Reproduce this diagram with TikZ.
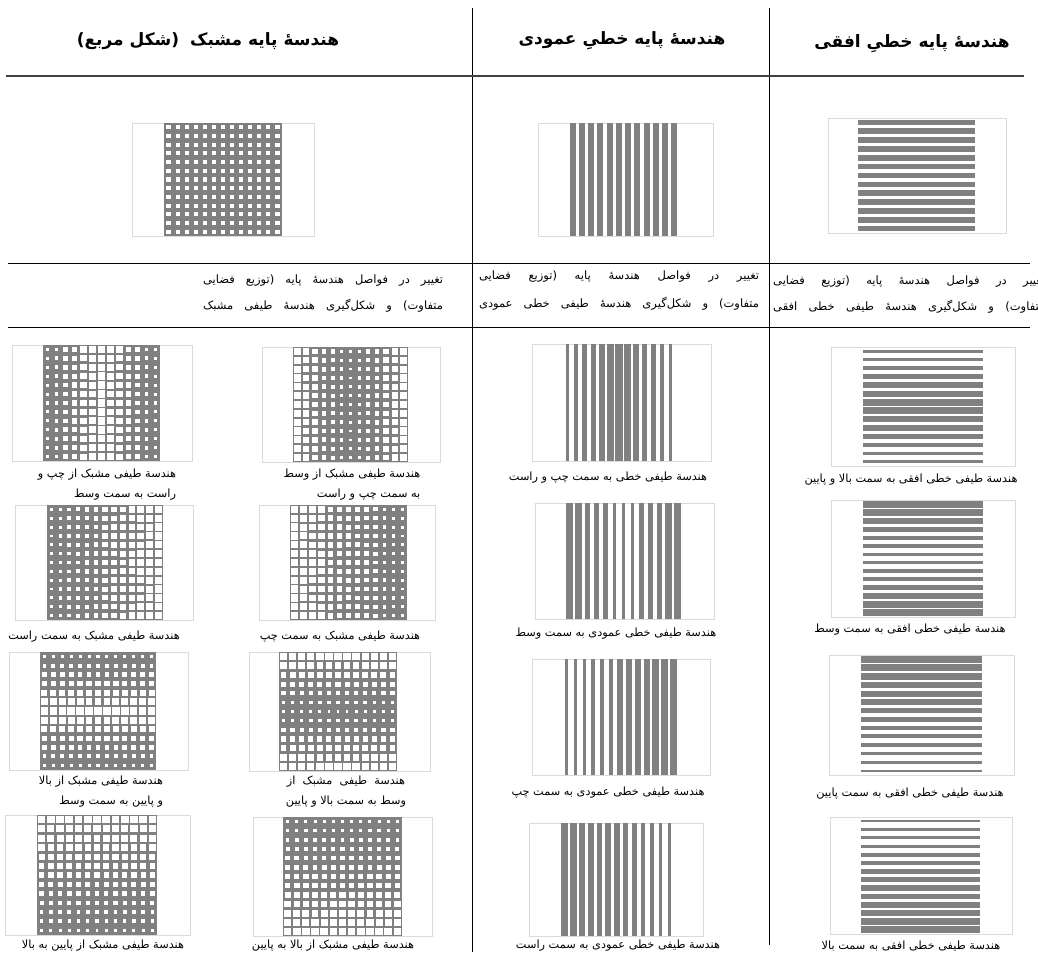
\documentclass[tikz,border=0pt]{standalone}
\usepackage{fontspec}
\newfontfamily\farsi[Script=Arabic]{DejaVu Sans}
\TeXXeTstate=1
\usetikzlibrary{positioning}
\definecolor{ink}{HTML}{808080}
\definecolor{rim}{HTML}{DADADA}
\newcommand{\fa}[1]{{\farsi\beginR #1\endR}}
% white windows on grey, #7 = lightness of a cell from \pu,\pv
\newcommand{\meshimg}[7]{%
  \draw[frame] (#1,#2) rectangle (#3,#4);
  \fill[ink] (#5,#2) rectangle (#6,#4);
  \pgfmathsetmacro{\cw}{(#6-#5)/13}
  \pgfmathsetmacro{\ch}{(#4-#2)/13}
  \foreach \ci in {0,...,12}{
    \foreach \cj in {0,...,12}{
      \pgfmathsetmacro{\pu}{(\ci+0.5)/13}
      \pgfmathsetmacro{\pv}{(\cj+0.5)/13}
      \pgfmathsetmacro{\lt}{#7}
      \pgfmathsetmacro{\sq}{0.3+0.55*\lt}
      \fill[white] ({#5+(\ci+0.5-0.5*\sq)*\cw},{#2+(\cj+0.5-0.5*\sq)*\ch}) rectangle ++({\sq*\cw},{\sq*\ch});
    }
  }
}
\newcommand{\vbars}[8]{%
  \draw[frame] (#1,#2) rectangle (#3,#4);
  \pgfmathsetmacro{\bp}{(#6-#5)/#7}
  \pgfmathtruncatemacro{\bn}{#7-1}
  \foreach \ci in {0,...,\bn}{
    \pgfmathsetmacro{\pu}{(\ci+0.5)/#7}
    \pgfmathsetmacro{\lt}{#8}
    \pgfmathsetmacro{\bw}{0.9-0.65*\lt}
    \fill[ink] ({#5+(\ci+0.5-0.5*\bw)*\bp},#2) rectangle ++({\bw*\bp},{#4-#2});
  }
}
\newcommand{\hbars}[8]{%
  \draw[frame] (#1,#2) rectangle (#3,#4);
  \pgfmathsetmacro{\bp}{(#4-#2)/#7}
  \pgfmathtruncatemacro{\bn}{#7-1}
  \foreach \cj in {0,...,\bn}{
    \pgfmathsetmacro{\pv}{(\cj+0.5)/#7}
    \pgfmathsetmacro{\lt}{#8}
    \pgfmathsetmacro{\bw}{0.9-0.65*\lt}
    \fill[ink] (#5,{#2+(\cj+0.5-0.5*\bw)*\bp}) rectangle ++({#6-#5},{\bw*\bp});
  }
}

\begin{document}
\begin{tikzpicture}[x=1pt, y=-1pt,
  frame/.style={draw=rim, line width=0.8pt},
  rulel/.style={draw=black, line width=0.9pt},
  head/.style={font=\bfseries\fontsize{17}{19}\selectfont, inner sep=0pt},
  note/.style={font=\fontsize{11.5}{13}\selectfont, inner sep=0pt},
  capt/.style={font=\fontsize{11.3}{13}\selectfont, inner sep=0pt},
]
\useasboundingbox (0,0) rectangle (1038,958);
\clip (0,0) rectangle (1038,958);

% table rules
\draw[rulel] (472,8) -- (472,952);
\draw[rulel] (769,8) -- (769,945);
\draw[draw=black!75, line width=2.2pt] (6,76) -- (1024,76);
\draw[rulel] (8,263) -- (1030,263);
\draw[rulel] (8,327) -- (1030,327);

\node[head] (hmesh) at (208,41) {\fa{هندسهٔ پایه مشبک\hspace{5pt} (شکل مربع)}};
\node[head] (hvert) at (622,41) {\fa{هندسهٔ پایه خطیِ عمودی}};
\node[head] (hhorz) at (912,44) {\fa{هندسهٔ پایه خطیِ افقی}};

% base patterns
\meshimg{132}{123}{314}{236}{164}{282}{0.3}
\vbars{538}{123}{713}{236}{568}{679}{12}{0.4}
\hbars{828}{118}{1006}{233}{858}{975}{13}{0.4}

\node[note] (dmesh) at (323,281) {\makebox[240pt][s]{\farsi\beginR تغییر در فواصل هندسهٔ پایه (توزیع فضایی\endR}};
\node[note] (dmeshb) at (323,306) {\makebox[240pt][s]{\farsi\beginR متفاوت) و شکل‌گیری هندسهٔ طیفی مشبک\endR}};
\node[note] (dvert) at (619,277) {\makebox[280pt][s]{\farsi\beginR تغییر در فواصل هندسهٔ پایه (توزیع فضایی\endR}};
\node[note] (dvertb) at (619,304) {\makebox[280pt][s]{\farsi\beginR متفاوت) و شکل‌گیری هندسهٔ طیفی خطی عمودی\endR}};
\node[note, anchor=west] (dhorz) at (773,282) {\makebox[272pt][s]{\farsi\beginR تغییر در فواصل هندسهٔ پایه (توزیع فضایی\endR}};
\node[note, anchor=west] (dhorzb) at (773,307) {\makebox[272pt][s]{\farsi\beginR متفاوت) و شکل‌گیری هندسهٔ طیفی خطی افقی\endR}};

% spectral row 1
\meshimg{12}{345}{192}{461}{43}{160}{1-2*abs(\pu-0.5)}
\meshimg{262}{347}{440}{462}{293}{408}{2*abs(\pu-0.5)}
\vbars{532}{344}{711}{461}{563}{675}{13}{2*abs(\pu-0.5)}
\hbars{831}{347}{1015}{466}{863}{983}{14}{2*abs(\pv-0.5)}
% spectral row 2
\meshimg{15}{505}{193}{620}{47}{163}{\pu}
\meshimg{259}{505}{435}{620}{290}{407}{1-\pu}
\vbars{535}{503}{714}{619}{565}{682}{13}{1-2*abs(\pu-0.5)}
\hbars{831}{500}{1015}{617}{863}{983}{14}{1-2*abs(\pv-0.5)}
% spectral row 3
\meshimg{9}{652}{188}{770}{40}{156}{1-2*abs(\pv-0.5)}
\meshimg{249}{652}{430}{771}{279}{397}{2*abs(\pv-0.5)}
\vbars{532}{659}{710}{775}{562}{678}{13}{1-\pu}
\hbars{829}{655}{1014}{775}{861}{982}{14}{\pv}
% spectral row 4
\meshimg{5}{815}{190}{935}{37}{157}{1-\pv}
\meshimg{253}{817}{432}{936}{283}{402}{\pv}
\vbars{529}{823}{703}{936}{560}{674}{13}{\pu}
\hbars{830}{817}{1012}{934}{861}{980}{14}{1-\pv}

% captions
\node[capt] (ca1) at (107,475) {\fa{هندسة طیفی مشبک از چپ و}};
\node[capt, anchor=base east] (ca1b) at ([yshift=-20pt]ca1.base east) {\fa{راست به سمت وسط}};
\node[capt] (ca2) at (352,475) {\fa{هندسة طیفی مشبک از وسط}};
\node[capt, anchor=base east] (ca2b) at ([yshift=-20pt]ca2.base east) {\fa{به سمت چپ و راست}};
\node[capt] (cb1) at (94,637) {\fa{هندسة طیفی مشبک به سمت راست}};
\node[capt] (cb2) at (340,637) {\fa{هندسة طیفی مشبک به سمت چپ}};
\node[capt] (cc1) at (101,782) {\fa{هندسة طیفی مشبک از بالا}};
\node[capt, anchor=base east] (cc1b) at ([yshift=-20pt]cc1.base east) {\fa{و پایین به سمت وسط}};
\node[capt] (cc2) at (346,782) {\fa{هندسة\ \ طیفی\ \ مشبک\ \ از}};
\node[capt, anchor=base] (cc2b) at ([yshift=-20pt]cc2.base) {\fa{وسط به سمت بالا و پایین}};
\node[capt] (cd1) at (103,946) {\fa{هندسة طیفی مشبک از پایین به بالا}};
\node[capt] (cd2) at (333,946) {\fa{هندسة طیفی مشبک از بالا به پایین}};

\node[capt] (va) at (608,478) {\fa{هندسة طیفی خطی به سمت چپ و راست}};
\node[capt] (vb) at (616,634) {\fa{هندسة طیفی خطی عمودی به سمت وسط}};
\node[capt] (vc) at (608,793) {\fa{هندسة طیفی خطی عمودی به سمت چپ}};
\node[capt] (vd) at (618,946) {\fa{هندسة طیفی خطی عمودی به سمت راست}};

\node[capt] (ha) at (911,480) {\fa{هندسة طیفی خطی افقی به سمت بالا و پایین}};
\node[capt] (hb) at (910,630) {\fa{هندسة طیفی خطی افقی به سمت وسط}};
\node[capt] (hc) at (910,794) {\fa{هندسة طیفی خطی افقی به سمت پایین}};
\node[capt] (hd) at (911,946) {\fa{هندسة طیفی خطی افقی به سمت بالا}};
\end{tikzpicture}
\end{document}
